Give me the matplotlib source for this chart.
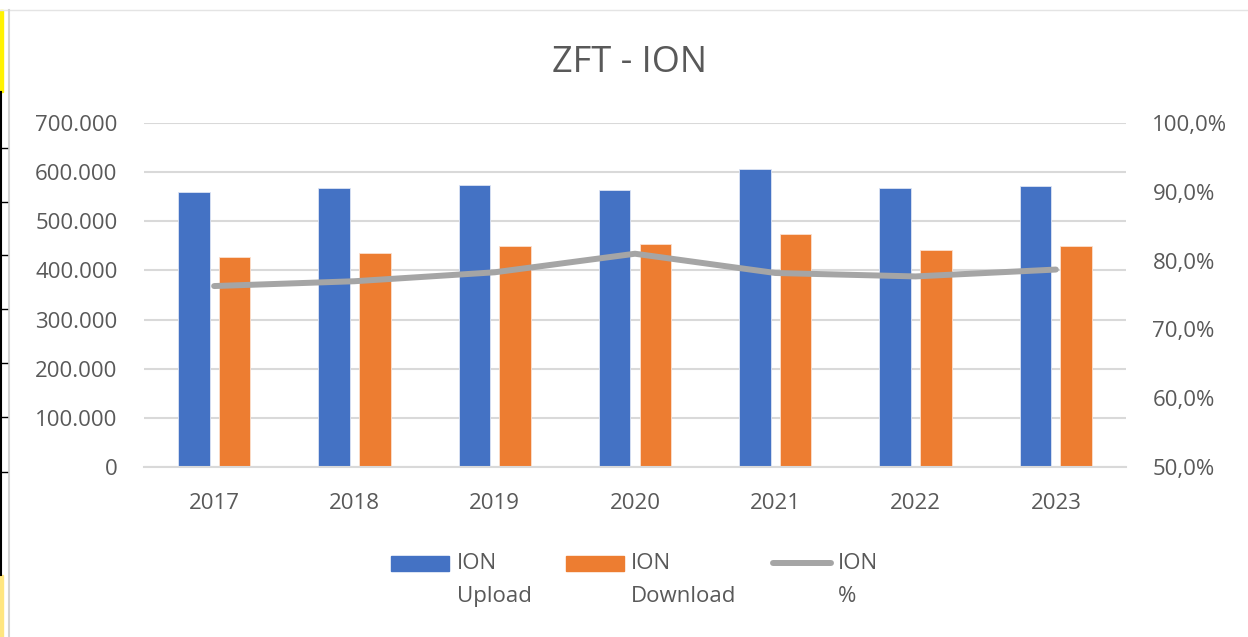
import matplotlib.pyplot as plt
import matplotlib.patches as mpatches
from matplotlib.lines import Line2D
from matplotlib.ticker import FuncFormatter
import numpy as np

plt.rcParams['font.family'] = ['Open Sans', 'DejaVu Sans']

# Data
years = ['2017', '2018', '2019', '2020', '2021', '2022', '2023']
upload = [560400, 567300, 574000, 563200, 606700, 567300, 572000]
download = [426700, 435500, 449800, 453800, 474800, 441000, 449800]
ratio_pct = [76.3, 77.0, 78.3, 81.0, 78.2, 77.7, 78.7]

blue = '#4472C4'
orange = '#ED7D31'
grey_line = '#A5A5A5'
grid_col = '#D9D9D9'
text_col = '#595959'

W, H = 1248, 637
fig = plt.figure(figsize=(W / 100, H / 100), dpi=100)
fig.patch.set_facecolor('white')

ax = fig.add_axes([144 / W, 1 - 467 / H, (1126 - 144) / W, (467 - 123) / H])
x = np.arange(len(years))
bw = 0.225
gap = 0.065
ax.bar(x - (bw + gap) / 2, upload, bw, color=blue, edgecolor='#DCE4F4', linewidth=0.6, zorder=2)
ax.bar(x + (bw + gap) / 2, download, bw, color=orange, edgecolor='#FBE0CF', linewidth=0.6, zorder=2)

ax.set_xlim(-0.5, len(years) - 0.5)
ax.set_ylim(0, 700000)
ax.set_yticks(np.arange(0, 700001, 100000))
ax.yaxis.set_major_formatter(FuncFormatter(lambda v, p: f'{int(v):,}'.replace(',', '.')))
ax.set_xticks(x)
ax.set_xticklabels(years)
ax.grid(axis='y', color=grid_col, linewidth=1.5, zorder=0)
ax.set_axisbelow(True)
for s in ['top', 'right', 'left']:
    ax.spines[s].set_visible(False)
ax.spines['bottom'].set_color(grid_col)
ax.spines['bottom'].set_linewidth(1.5)
ax.tick_params(axis='y', length=0, pad=19, labelsize=16, labelcolor=text_col)
ax.tick_params(axis='x', length=0, pad=19, labelsize=16, labelcolor=text_col)

ax2 = ax.twinx()
ax2.plot(x, ratio_pct, color=grey_line, linewidth=4.3, solid_capstyle='round', zorder=3)
ax2.set_ylim(50, 100)
ax2.set_yticks(np.arange(50, 101, 10))
ax2.yaxis.set_major_formatter(FuncFormatter(lambda v, p: f'{v:.1f}%'.replace('.', ',')))
for s in ax2.spines.values():
    s.set_visible(False)
ax2.tick_params(axis='y', length=0, pad=19, labelsize=16, labelcolor=text_col)

fig.text(630 / W, 1 - 63 / H, 'ZFT - ION', ha='center', va='center', fontsize=26, color=text_col)

# Legend drawn by hand so the handles sit on the first text line
leg_items = [
    ('patch', blue, 391, 449, 457, 'ION\nUpload'),
    ('patch', orange, 566, 624, 631, 'ION\nDownload'),
    ('line', grey_line, 773, 831, 838, 'ION\n%'),
]
for kind, col, x0, x1, tx, lab in leg_items:
    if kind == 'patch':
        fig.add_artist(mpatches.Rectangle((x0 / W, 1 - 571 / H), (x1 - x0) / W, 15 / H,
                                          transform=fig.transFigure, color=col))
    else:
        fig.add_artist(Line2D([x0 / W, x1 / W], [1 - 563 / H, 1 - 563 / H], transform=fig.transFigure,
                              color=col, linewidth=4.3, solid_capstyle='round'))
    fig.text(tx / W, 1 - 553 / H, lab, ha='left', va='top', fontsize=16, color=text_col, linespacing=1.75)

# Spreadsheet frame remnants at the left and top edges
fig.add_artist(Line2D([0, 1], [1 - 10 / H, 1 - 10 / H], transform=fig.transFigure, color='#E4E4E4', linewidth=1))
fig.add_artist(Line2D([8.5 / W, 8.5 / W], [0, 1 - 10 / H], transform=fig.transFigure, color='#D4D4D4', linewidth=1.5))
fig.add_artist(mpatches.Rectangle((0, 1 - 92 / H), 3 / W, 82 / H, transform=fig.transFigure, color='#FFF200'))
fig.add_artist(mpatches.Rectangle((0, 0), 3 / W, 62 / H, transform=fig.transFigure, color='#FFE680'))
fig.add_artist(Line2D([1 / W, 1 / W], [62 / H, 1 - 92 / H], transform=fig.transFigure, color='black', linewidth=1.5))
for yy in [148, 202, 255, 309, 363, 417, 472]:
    fig.add_artist(Line2D([0, 7 / W], [1 - yy / H, 1 - yy / H], transform=fig.transFigure, color='black', linewidth=1))

fig.savefig('out.png', dpi=100, facecolor='white')
